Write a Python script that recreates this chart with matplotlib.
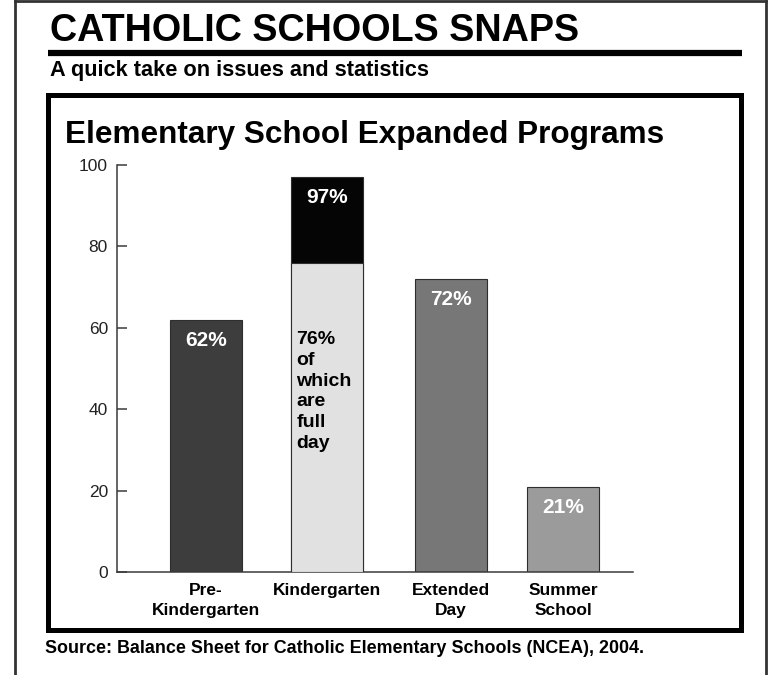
import matplotlib
matplotlib.use("Agg")
import matplotlib.pyplot as plt
from matplotlib.lines import Line2D
from matplotlib.patches import Rectangle

# Program share of Catholic elementary schools (percent)
categories = ["Pre-\nKindergarten", "Kindergarten", "Extended\nDay", "Summer\nSchool"]
pct = [62, 97, 72, 21]
kinder_full_day = 76
kinder_note = "76%\nof\nwhich\nare\nfull\nday"

header = "CATHOLIC SCHOOLS SNAPS"
subheader = "A quick take on issues and statistics"
chart_title = "Elementary School Expanded Programs"
source = "Source: Balance Sheet for Catholic Elementary Schools (NCEA), 2004."

FONT = ["Liberation Sans", "DejaVu Sans"]
W, H = 768, 675

fig = plt.figure(figsize=(W / 100, H / 100), dpi=100)
fig.patch.set_facecolor("white")


def fx(x):
    return x / W


def fy(y):
    return 1 - y / H


def fit_width(txt, width_px):
    # scale the font so the rendered text spans width_px
    r = fig.canvas.get_renderer()
    bb = txt.get_window_extent(r)
    txt.set_fontsize(txt.get_fontsize() * width_px / bb.width)


# outer frame (open at the bottom)
frame_kw = dict(color="#333333", lw=2, transform=fig.transFigure)
fig.add_artist(Line2D([fx(15), fx(15)], [fy(1), 0], **frame_kw))
fig.add_artist(Line2D([fx(766), fx(766)], [fy(1), 0], **frame_kw))
fig.add_artist(Line2D([fx(15), fx(766)], [fy(1), fy(1)], **frame_kw))

t = fig.text(fx(50), fy(41), header, fontsize=26, weight="bold", family=FONT,
             va="baseline", ha="left")
fit_width(t, 529)

# heavy rule under the header
fig.add_artist(Line2D([fx(48), fx(742)], [fy(53), fy(53)], color="black",
                      lw=4.5, solid_capstyle="butt", transform=fig.transFigure))

t = fig.text(fx(50), fy(76), subheader, fontsize=13, weight="bold", family=FONT,
             va="baseline", ha="left")
fit_width(t, 378)

# boxed chart area
fig.add_artist(Rectangle((fx(47.5), fy(629.5)), (740.5 - 47.5) / W, (629.5 - 94.5) / H,
                         fill=False, edgecolor="black", lw=3.6, transform=fig.transFigure))

t = fig.text(fx(65), fy(143), chart_title, fontsize=20, weight="bold", family=FONT,
             va="baseline", ha="left")
fit_width(t, 599)

t = fig.text(fx(45), fy(653), source, fontsize=12, weight="bold", family=FONT,
             va="baseline", ha="left")
fit_width(t, 592)

# bar chart
ax = fig.add_axes([fx(117), fy(572), (633 - 117) / W, (572 - 165) / H])
pos = [0, 1.02, 2.06, 3.0]
bar_w = 0.605
colors = ["#3d3d3d", "#050505", "#777777", "#9b9b9b"]
edge = "#2e2e2e"

ax.bar(pos, pct, bar_w, color=colors, edgecolor=edge, linewidth=0.8, zorder=2)
ax.bar(pos[1], kinder_full_day, bar_w, color="#e1e1e1", edgecolor=edge,
       linewidth=0.8, zorder=3)

for x, v in zip(pos, pct):
    ax.annotate(f"{v}%", (x, v), xytext=(0, -8), textcoords="offset points",
                ha="center", va="top", color="white", fontsize=15,
                weight="bold", family=FONT, zorder=4)

ax.annotate(kinder_note, (pos[1] - bar_w / 2, kinder_full_day), xytext=(3.5, -49),
            textcoords="offset points", ha="left", va="top", multialignment="left",
            color="black", fontsize=14, weight="bold", family=FONT,
            linespacing=1.3, zorder=4)

ax.set_xlim(-0.748, 3.588)
ax.set_ylim(0, 100)
ax.set_yticks([0, 20, 40, 60, 80, 100])
ax.set_xticks(pos, categories)

for s in ("top", "right"):
    ax.spines[s].set_visible(False)
for s in ("left", "bottom"):
    ax.spines[s].set_color("#3a3a3a")
    ax.spines[s].set_linewidth(1.1)

ax.tick_params(axis="y", direction="in", length=7.5, width=1.1, color="#3a3a3a",
               pad=6.5, labelsize=12.5, labelcolor="#222222")
ax.tick_params(axis="x", length=0, pad=8, labelsize=12.5)
for lab in ax.get_yticklabels():
    lab.set_family(FONT)
for lab in ax.get_xticklabels():
    lab.set_family(FONT)
    lab.set_weight("bold")
    lab.set_linespacing(1.4)

fig.savefig("out.png", dpi=100, facecolor="white")
